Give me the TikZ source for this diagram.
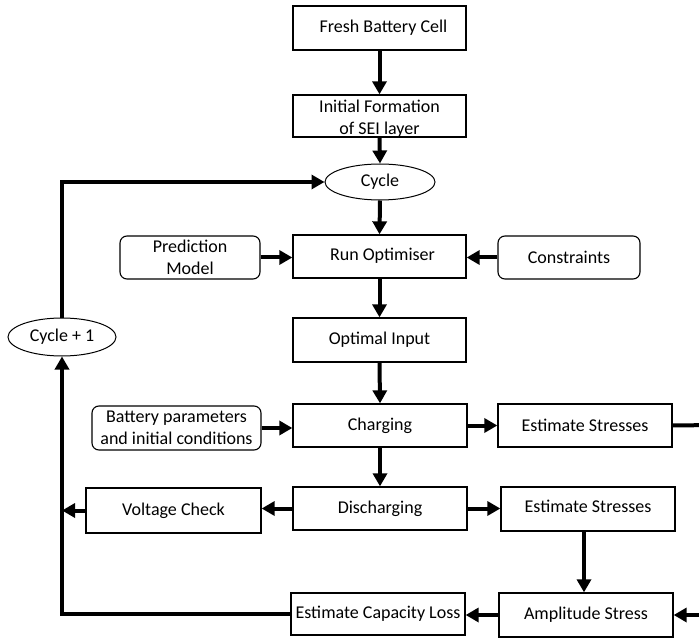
\documentclass[tikz,border=0pt]{standalone}
\usepackage{fontspec}
\setmainfont{Carlito}
\usetikzlibrary{arrows.meta,shapes.geometric,calc}
\begin{document}
\begin{tikzpicture}[x=1pt,y=-1pt,
  box/.style={draw,line width=1.3pt,minimum width=#1,inner sep=0pt,align=center,
    font=\fontsize{18}{21.6}\selectfont},
  box/.default=174pt,
  rbox/.style={box=#1,rounded corners=7pt,line width=1.1pt},
  oval/.style={draw,ellipse,line width=1pt,inner sep=0pt,
    font=\fontsize{18}{21.6}\selectfont},
  conn/.style={line width=4pt,-{Triangle[length=13pt,width=14pt]}},
  plain/.style={line width=4pt}
]
\useasboundingbox (0,0) rectangle (699,639);
\clip (0,0) rectangle (699,639);
\fill[white] (0,0) rectangle (699,639);

\node[box=173pt,minimum height=44pt] (fresh) at (379.5,28) {\hspace*{8pt}Fresh Battery Cell};
\node[box=173pt,minimum height=42pt] (init) at (379.5,116) {};
\node[align=center,inner sep=0pt,font=\fontsize{18}{21.6}\selectfont] (inittext) at ([yshift=-3pt]init.center) {Initial Formation\\of SEI layer};
\node[oval,minimum width=110pt,minimum height=36pt] (cycle) at (380,182) {Cycle};
\node[box=173pt,minimum height=43pt] (run) at (379.5,256.5) {\raisebox{4pt}{\hspace*{6pt}Run Optimiser}};
\node[rbox=140pt,minimum height=43pt] (pred) at (190,257.5) {Prediction\\Model};
\node[rbox=142pt,minimum height=43pt] (cons) at (569,257.5) {Constraints};
\node[box=173pt,minimum height=44pt] (opt) at (379.5,340) {Optimal Input};
\node[oval,minimum width=108pt,minimum height=38pt] (cyc1) at (62,337) {Cycle + 1};
\node[rbox=169pt,minimum height=44pt] (bat) at (176.5,428) {Battery parameters\\and initial conditions};
\node[box=174pt,minimum height=43pt] (chg) at (380,425.5) {Charging};
\node[box=174pt,minimum height=43pt] (es1) at (585,425.5) {Estimate Stresses};
\node[box=174pt,minimum height=43pt] (dis) at (380,508.5) {Discharging};
\node[box=175pt,minimum height=45pt] (volt) at (173.5,510.5) {Voltage Check};
\node[box=174pt,minimum height=44pt] (es2) at (588,509) {\raisebox{5pt}{Estimate Stresses}};
\node[box=174pt,minimum height=44pt] (amp) at (586,615) {Amplitude Stress};
\node[box=174pt,minimum height=42pt] (ecl) at (378,614) {Estimate Capacity Loss};

\coordinate (R) at (715,425);

\draw[conn] (fresh.south) -- (init.north);
\draw[conn] (init.south) -- (cycle.north);
\draw[conn] (cycle.south) -- (run.north);
\draw[conn] (pred.east) -- (pred.east -| run.west);
\draw[conn] (cons.west) -- (cons.west -| run.east);
\draw[conn] (run.south) -- (opt.north);
\draw[conn] (opt.south) -- (chg.north);
\draw[conn] (bat.east) -- (bat.east -| chg.west);
\draw[conn] (chg.east) -- (es1.west);
\draw[conn] (chg.south) -- (dis.north);
\draw[conn] (dis.west) -- (dis.west -| volt.east);
\draw[conn] (volt.west) -- (volt.west -| cyc1.south);
\draw[conn] (dis.east) -- (dis.east -| es2.west);
\draw[conn] ([xshift=-4pt]es2.south) -- ([xshift=-4pt]es2.south |- amp.north);
\draw[conn] (amp.west) -- (amp.west -| ecl.east);
\draw[conn] (ecl.west) -| (cyc1.south);
\draw[conn] (cyc1.north) |- (cycle.west);
\draw[plain] (es1.east) -- (R);
\draw[conn] (R) |- (amp.east);
\end{tikzpicture}
\end{document}
